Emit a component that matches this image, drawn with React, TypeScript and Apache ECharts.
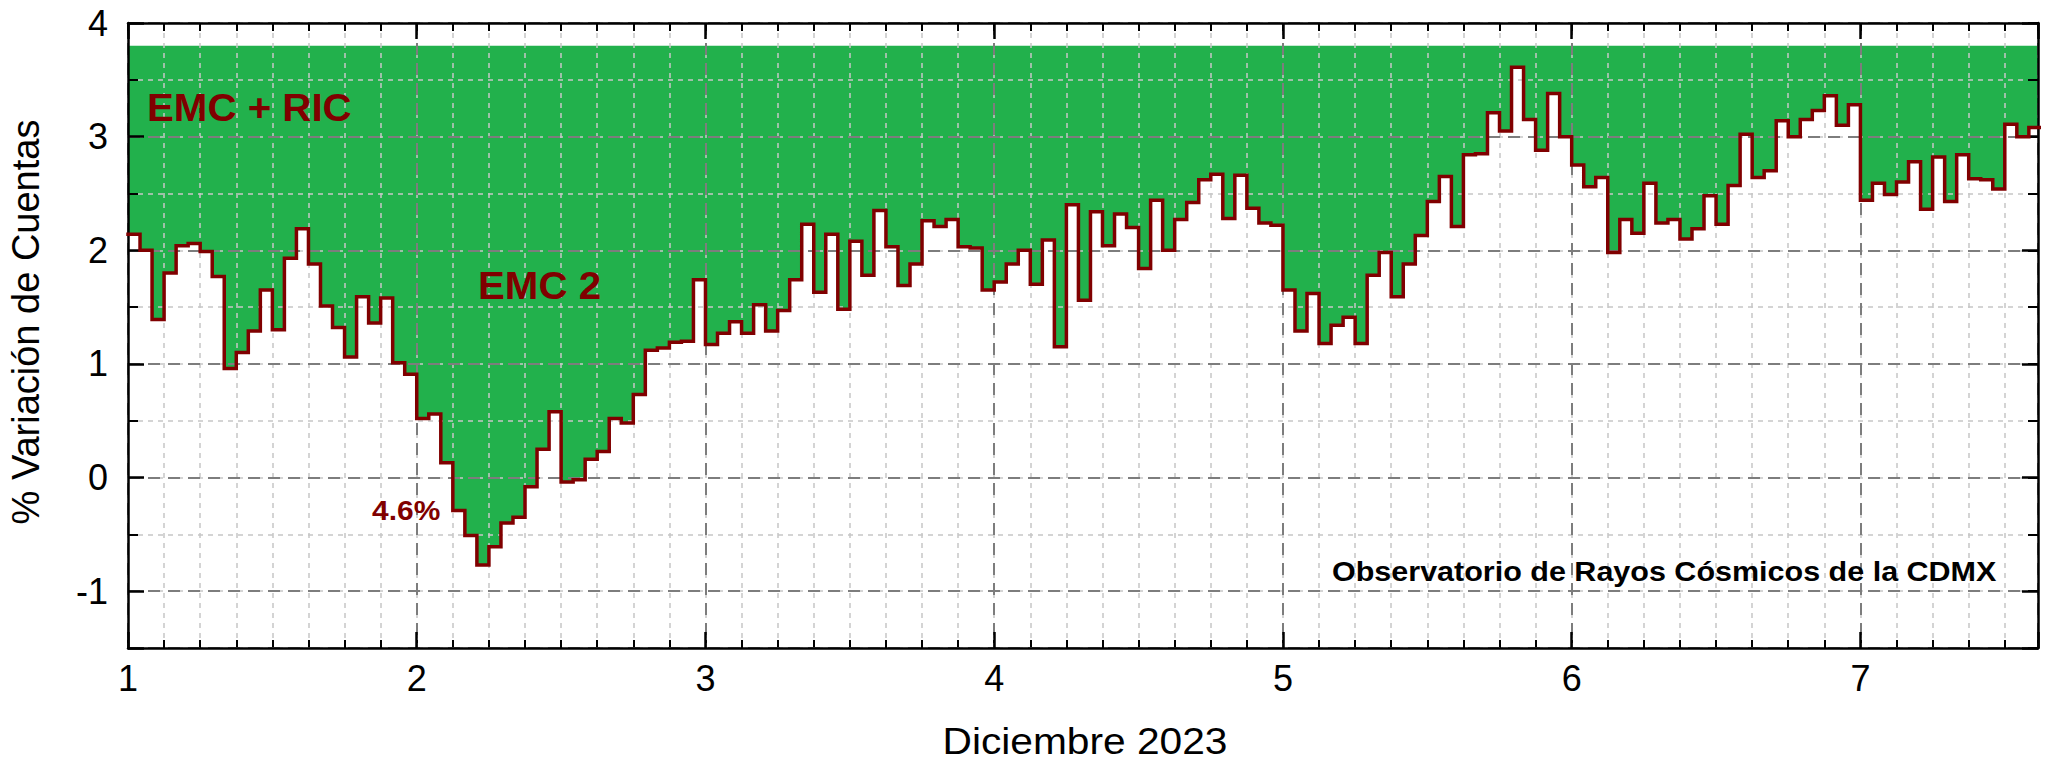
import React, { useEffect, useRef } from "react";
import * as echarts from "echarts";

// ---- data (hourly % variation, 1 Dec 2023 00h onwards) ----
const START_DAY = 1;
const HOURS_PER_DAY = 24;
const X_MIN = 1;
const X_MAX = 7.615;
const Y_MIN = -1.5;
const Y_MAX = 4;
const FILL_TOP = 3.8;

const dec01 = [2.14, 2.0, 1.39, 1.8, 2.04, 2.06, 1.99, 1.77, 0.96, 1.1, 1.29, 1.65, 1.3, 1.93, 2.19, 1.88, 1.51, 1.32, 1.06, 1.59, 1.36, 1.58, 1.01, 0.91];
const dec02 = [0.52, 0.56, 0.13, -0.29, -0.51, -0.77, -0.61, -0.4, -0.35, -0.08, 0.25, 0.58, -0.04, -0.02, 0.16, 0.23, 0.52, 0.48, 0.73, 1.12, 1.14, 1.19, 1.2, 1.74];
const dec03 = [1.17, 1.27, 1.37, 1.27, 1.52, 1.29, 1.47, 1.74, 2.23, 1.63, 2.14, 1.48, 2.08, 1.78, 2.35, 2.03, 1.69, 1.88, 2.26, 2.21, 2.27, 2.03, 2.02, 1.65];
const dec04 = [1.72, 1.88, 2.0, 1.7, 2.09, 1.15, 2.4, 1.56, 2.34, 2.04, 2.32, 2.2, 1.84, 2.44, 2.0, 2.27, 2.42, 2.62, 2.67, 2.28, 2.66, 2.37, 2.24, 2.22];
const dec05 = [1.65, 1.29, 1.62, 1.18, 1.34, 1.41, 1.18, 1.78, 1.98, 1.59, 1.88, 2.13, 2.43, 2.65, 2.21, 2.84, 2.85, 3.21, 3.05, 3.61, 3.15, 2.88, 3.38, 3.0];
const dec06 = [2.75, 2.56, 2.64, 1.98, 2.27, 2.15, 2.59, 2.24, 2.27, 2.1, 2.19, 2.48, 2.23, 2.57, 3.02, 2.64, 2.7, 3.14, 3.0, 3.15, 3.23, 3.36, 3.1, 3.28];
const dec07 = [2.44, 2.59, 2.49, 2.6, 2.78, 2.36, 2.82, 2.43, 2.84, 2.63, 2.62, 2.54, 3.11, 3.0, 3.08];

const hourly = [...dec01, ...dec02, ...dec03, ...dec04, ...dec05, ...dec06, ...dec07];

const AXIS_TITLE_X = "Diciembre 2023";
const AXIS_TITLE_Y = "% Variación de Cuentas";
const LABEL_TOP = "EMC + RIC";
const LABEL_MID = "EMC 2";
const LABEL_DROP = "4.6%";
const LABEL_SOURCE = "Observatorio de Rayos Cósmicos de la CDMX";

const FONT = "'Liberation Sans', Arial, Helvetica, sans-serif";
const GREEN = "#22b14c";
const DARK_RED = "#800000";

function buildStepData(): [number, number][] {
  const pts: [number, number][] = hourly.map((v, i) => [START_DAY + i / HOURS_PER_DAY, v]);
  pts.push([START_DAY + hourly.length / HOURS_PER_DAY, hourly[hourly.length - 1]]);
  return pts;
}

const intOnly = (v: number) => (Math.abs(v - Math.round(v)) < 1e-6 ? String(Math.round(v)) : "");

export default function App() {
  const ref = useRef<HTMLDivElement>(null);

  useEffect(() => {
    if (!ref.current) return;
    const chart = echarts.init(ref.current, null, { renderer: "svg" });
    const data = buildStepData();

    const majorGrid = { show: true, lineStyle: { color: "#7d7d7d", width: 2, type: [12, 8] } };
    const minorGrid = { show: true, lineStyle: { color: "#c6c6c6", width: 1.5, type: [5, 5] } };
    const frame = { show: true, onZero: false, lineStyle: { color: "#000", width: 2.5 } };
    const noLine = { show: false, onZero: false };
    const tickMajor = { show: true, inside: true, length: 16, lineStyle: { color: "#000", width: 2.5 } };
    const tickMinorX = { show: true, inside: true, length: 8, lineStyle: { color: "#000", width: 2 } };
    const tickMinorY = { show: true, inside: true, length: 10, lineStyle: { color: "#000", width: 2 } };

    const option: any = {
      animation: false,
      backgroundColor: "#ffffff",
      grid: { left: 128, right: 10, top: 23, bottom: 115, containLabel: false },
      xAxis: [
        {
          type: "value", position: "bottom", min: X_MIN, max: X_MAX, interval: 1, z: 3,
          axisLine: frame, axisTick: tickMajor,
          axisLabel: { show: true, margin: 12, fontSize: 36, color: "#000", fontFamily: FONT, formatter: intOnly },
          splitLine: majorGrid,
        },
        {
          type: "value", position: "bottom", min: X_MIN, max: X_MAX, interval: 0.125, z: 2,
          axisLine: noLine, axisTick: tickMinorX, axisLabel: { show: false }, splitLine: minorGrid,
        },
        {
          type: "value", position: "top", min: X_MIN, max: X_MAX, interval: 1, z: 3,
          axisLine: frame, axisTick: tickMajor, axisLabel: { show: false }, splitLine: { show: false },
        },
        {
          type: "value", position: "top", min: X_MIN, max: X_MAX, interval: 0.125, z: 3,
          axisLine: noLine, axisTick: tickMinorX, axisLabel: { show: false }, splitLine: { show: false },
        },
      ],
      yAxis: [
        {
          type: "value", position: "left", min: Y_MIN, max: Y_MAX, splitNumber: 5, z: 3,
          axisLine: frame, axisTick: tickMajor,
          axisLabel: { show: true, margin: 20, fontSize: 36, color: "#000", fontFamily: FONT, formatter: intOnly },
          splitLine: majorGrid,
        },
        {
          type: "value", position: "left", min: Y_MIN, max: Y_MAX, interval: 0.5, z: 2,
          axisLine: noLine, axisTick: tickMinorY, axisLabel: { show: false }, splitLine: minorGrid,
        },
        {
          type: "value", position: "right", min: Y_MIN, max: Y_MAX, splitNumber: 5, z: 3,
          axisLine: frame, axisTick: tickMajor, axisLabel: { show: false }, splitLine: { show: false },
        },
        {
          type: "value", position: "right", min: Y_MIN, max: Y_MAX, interval: 0.5, z: 3,
          axisLine: noLine, axisTick: tickMinorY, axisLabel: { show: false }, splitLine: { show: false },
        },
      ],
      series: [
        {
          name: "fill", type: "line", xAxisIndex: 0, yAxisIndex: 0, step: "end", data,
          symbol: "none", showSymbol: false, silent: true, z: 1,
          lineStyle: { width: 0, opacity: 0 },
          areaStyle: { color: GREEN, opacity: 1, origin: FILL_TOP },
        },
        {
          name: "EMC 2", type: "line", xAxisIndex: 0, yAxisIndex: 0, step: "end", data,
          symbol: "none", showSymbol: false, z: 4,
          lineStyle: { color: DARK_RED, width: 3.5, join: "miter", cap: "square" },
        },
      ],
      graphic: {
        elements: [
          {
            type: "text", x: 147, y: 108, scaleX: 1.06, z: 100,
            style: { text: LABEL_TOP, fill: DARK_RED, fontSize: 38, fontWeight: "bold", fontFamily: FONT, textAlign: "left", textVerticalAlign: "middle" },
          },
          {
            type: "text", x: 478, y: 286, scaleX: 1.06, z: 100,
            style: { text: LABEL_MID, fill: DARK_RED, fontSize: 38, fontWeight: "bold", fontFamily: FONT, textAlign: "left", textVerticalAlign: "middle" },
          },
          {
            type: "text", x: 372, y: 510, scaleX: 1.07, z: 100,
            style: { text: LABEL_DROP, fill: DARK_RED, fontSize: 28, fontWeight: "bold", fontFamily: FONT, textAlign: "left", textVerticalAlign: "middle" },
          },
          {
            type: "text", x: 1332, y: 571, scaleX: 1.09, z: 100,
            style: { text: LABEL_SOURCE, fill: "#000", fontSize: 28, fontWeight: "bold", fontFamily: FONT, textAlign: "left", textVerticalAlign: "middle" },
          },
          {
            type: "text", x: 1085, y: 741, scaleX: 1.1, z: 100,
            style: { text: AXIS_TITLE_X, fill: "#000", fontSize: 37, fontFamily: FONT, textAlign: "center", textVerticalAlign: "middle" },
          },
          {
            type: "text", x: 26, y: 322, rotation: Math.PI / 2, z: 100,
            style: { text: AXIS_TITLE_Y, fill: "#000", fontSize: 38, fontFamily: FONT, textAlign: "center", textVerticalAlign: "middle" },
          },
        ],
      },
    };

    chart.setOption(option);
    return () => chart.dispose();
  }, []);

  return (
    <div
      ref={ref}
      style={{ position: "fixed", left: 0, top: 0, width: 2048, height: 763, background: "#fff" }}
    />
  );
}
